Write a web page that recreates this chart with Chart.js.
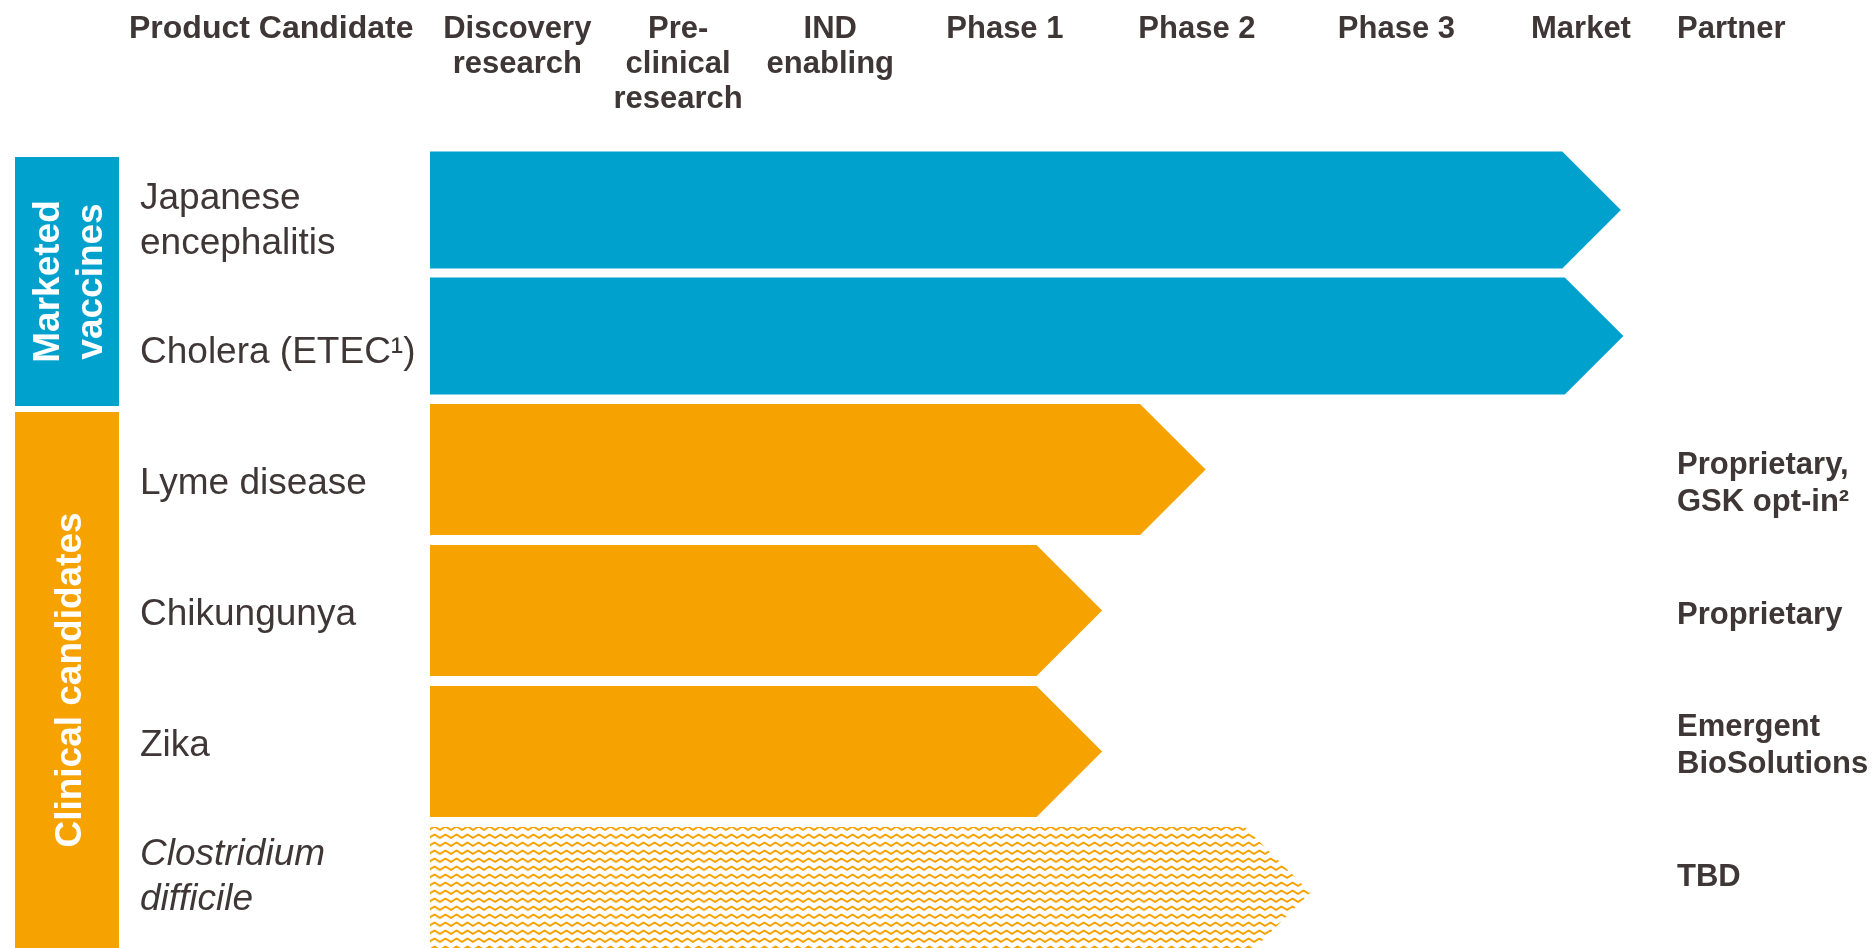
<!DOCTYPE html>
<html>
<head>
<meta charset="utf-8">
<script src="https://cdn.jsdelivr.net/npm/chart.js@4.4.1/dist/chart.umd.min.js"></script>
<style>
  html, body { margin: 0; padding: 0; background: #ffffff; }
  #wrap { position: relative; width: 1874px; height: 948px; }
</style>
</head>
<body>
<div id="wrap"><canvas id="c"></canvas></div>
<script>
// ---------- data ----------
const stageLabels = [['Discovery', 'research'], ['Pre-', 'clinical', 'research'], ['IND', 'enabling'], 'Phase 1', 'Phase 2', 'Phase 3', 'Market'];
const stageTicks = [7.0, 19.9, 32.1, 46.1, 61.5, 77.5, 92.3];   // stage column centres on the 0-100 progress scale
const groupLabels = [['Marketed', 'vaccines'], 'Clinical candidates'];
const marketedNames = [['Japanese', 'encephalitis'], 'Cholera (ETEC\u00B9)'];
const clinicalNames = ['Lyme disease', 'Chikungunya', 'Zika', ['Clostridium', 'difficile']];
const partnerLabels = ['', '', ['Proprietary,', 'GSK opt-in\u00B2'], 'Proprietary', ['Emergent', 'BioSolutions'], 'TBD'];
const marketedStart = [0, 0];
const marketedEnd = [95.5, 95.7];
const clinicalStart = [0, 0, 0, 0];
const clinicalEnd = [62.2, 53.9, 53.9, 70.6];
const clinicalHatched = [false, false, false, true];

// ---------- styles ----------
const BLUE = '#00A2CD';
const ORANGE = '#F6A200';
const TEXT = '#3F3737';
const FAMILY = "'Liberation Sans', Arial, sans-serif";
Chart.defaults.font.family = FAMILY;

function makeHatch() {
  const pc = document.createElement('canvas');
  pc.width = 11; pc.height = 8;
  const g = pc.getContext('2d');
  g.strokeStyle = ORANGE;
  g.lineWidth = 1.9;
  g.lineJoin = 'round';
  g.beginPath();
  g.moveTo(-5.5, 2.5); g.lineTo(0, 6); g.lineTo(5.5, 2.5); g.lineTo(11, 6); g.lineTo(16.5, 2.5);
  g.stroke();
  return g.createPattern(pc, 'repeat');
}
const hatch = makeHatch();

const candidateLabels = marketedNames.concat(clinicalNames);

const noPad = s => { s.paddingTop = 0; s.paddingBottom = 0; };

const decor = {
  id: 'decor',
  afterLayout(chart) {
    const a = chart.chartArea;
    // last row band runs a little past the bottom edge of the slide
    const yC = chart.scales.yC;
    yC.bottom = a.bottom + 15;
    yC.height = yC.bottom - yC.top;
    yC.configure();
    ['yL', 'yR'].forEach(id => {
      const s = chart.scales[id];
      s.top = a.top + 8.7;
      s.bottom = a.bottom - 5;
      s.height = s.bottom - s.top;
      s.configure();
    });
  },
  beforeDatasetDraw(chart, args) {
    const ctx = chart.ctx;
    ctx.save();
    args.meta.data.forEach(el => {
      const p = el.getProps(['x', 'y', 'base', 'height'], true);
      const h = p.height;
      const top = p.y - h / 2, bot = p.y + h / 2;
      const left = Math.min(p.base, p.x), right = Math.max(p.base, p.x);
      const sh = right - h / 2;
      ctx.beginPath();
      ctx.moveTo(left, top);
      ctx.lineTo(sh, top);
      ctx.lineTo(right, p.y);
      ctx.lineTo(sh, bot);
      ctx.lineTo(left, bot);
      ctx.closePath();
      ctx.fillStyle = el.options.backgroundColor;
      ctx.fill();
    });
    ctx.restore();
    return false;
  },
  afterDraw(chart) {
    const ctx = chart.ctx;
    const yM = chart.scales.yM, yC = chart.scales.yC, yR = chart.scales.yR;
    ctx.save();
    const bx = 15, bw = 104;
    const mTop = yM.top + 10, mBot = yM.bottom + 7;
    const cTop = yC.top + 13, cBot = chart.height;
    ctx.fillStyle = BLUE; ctx.fillRect(bx, mTop, bw, mBot - mTop);
    ctx.fillStyle = ORANGE; ctx.fillRect(bx, cTop, bw, cBot - cTop);
    ctx.fillStyle = '#ffffff';
    ctx.font = 'bold 37px ' + FAMILY;
    ctx.textAlign = 'center';
    ctx.textBaseline = 'alphabetic';
    ctx.save();
    ctx.translate(0, (mTop + mBot) / 2);
    ctx.rotate(-Math.PI / 2);
    ctx.fillText(groupLabels[0][0], 0, 59);
    ctx.fillText(groupLabels[0][1], 0, 102);
    ctx.restore();
    ctx.save();
    ctx.translate(0, (cTop + cBot) / 2);
    ctx.rotate(-Math.PI / 2);
    ctx.fillText(groupLabels[1], 0, 81);
    ctx.restore();
    ctx.fillStyle = TEXT;
    ctx.textAlign = 'left';
    ctx.textBaseline = 'middle';
    ctx.font = 'bold 32px ' + FAMILY;
    ctx.fillText('Product Candidate', 129, 29.5);
    ctx.font = 'bold 31px ' + FAMILY;
    ctx.fillText('Partner', yR.left, 29.5);
    ctx.restore();
  }
};

new Chart(document.getElementById('c'), {
  type: 'bar',
  data: {
    datasets: [
      {
        label: 'Marketed vaccines',
        xAxisID: 'x', yAxisID: 'yM',
        grouped: false,
        data: marketedStart.map((s, i) => [s, marketedEnd[i]]),
        backgroundColor: BLUE
      },
      {
        label: 'Clinical candidates',
        xAxisID: 'x', yAxisID: 'yC',
        grouped: false,
        data: clinicalStart.map((s, i) => [s, clinicalEnd[i]]),
        backgroundColor: clinicalHatched.map(hh => hh ? hatch : ORANGE)
      }
    ]
  },
  options: {
    indexAxis: 'y',
    responsive: true,
    maintainAspectRatio: false,
    animation: false,
    grouped: false,
    barPercentage: 1,
    categoryPercentage: 0.93,
    layout: { padding: { left: 140, right: 0, top: 0, bottom: 0 } },
    plugins: { legend: { display: false }, tooltip: { enabled: false } },
    scales: {
      x: {
        type: 'linear', position: 'top', min: 0, max: 100,
        grid: { display: false, drawTicks: false },
        border: { display: false },
        afterBuildTicks: s => { s.ticks = stageTicks.map(v => ({ value: v })); },
        afterFit: s => { s.height = 147; s.paddingLeft = 0; s.paddingRight = 0; },
        ticks: {
          autoSkip: false, maxRotation: 0, minRotation: 0,
          padding: 30, crossAlign: 'far', color: TEXT,
          font: { size: 31, weight: 'bold', lineHeight: 1.13 },
          callback: (v, i) => stageLabels[i]
        }
      },
      yL: {
        type: 'category', position: 'left', labels: candidateLabels, offset: true, weight: 0,
        grid: { display: false, drawTicks: false },
        border: { display: false },
        afterFit: s => { s.width = 290; noPad(s); },
        ticks: {
          autoSkip: false, padding: 0, crossAlign: 'far', color: TEXT,
          font: ctx => ({ size: 37, lineHeight: 1.2, style: ctx.index === 5 ? 'italic' : 'normal' })
        }
      },
      yM: {
        type: 'category', position: 'left', labels: marketedNames, offset: true, weight: 2,
        display: false, stack: 'rows', stackWeight: 2.52,
        afterFit: noPad
      },
      yC: {
        type: 'category', position: 'left', labels: clinicalNames, offset: true, weight: 1,
        display: false, stack: 'rows', stackWeight: 5.49,
        afterFit: noPad
      },
      yR: {
        type: 'category', position: 'right', labels: partnerLabels, offset: true,
        grid: { display: false, drawTicks: false },
        border: { display: false },
        afterFit: s => { s.width = 197; noPad(s); },
        ticks: {
          autoSkip: false, padding: 0, crossAlign: 'near', color: TEXT,
          font: { size: 31, weight: 'bold', lineHeight: 1.2 }
        }
      }
    }
  },
  plugins: [decor]
});
</script>
</body>
</html>
